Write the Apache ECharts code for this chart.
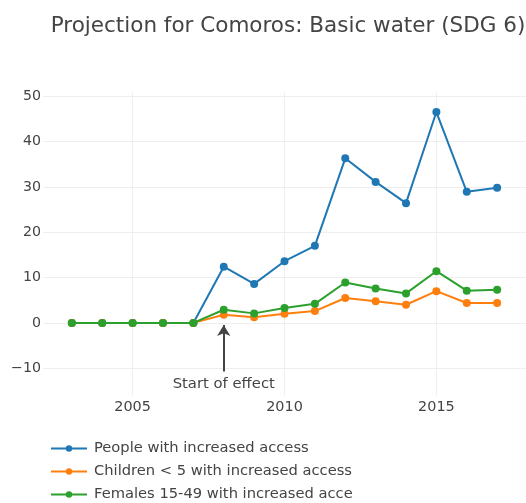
<!DOCTYPE html>
<html>
<head>
<meta charset="utf-8">
<script src="https://cdn.jsdelivr.net/npm/echarts@6/dist/echarts.min.js"></script>
<style>html,body{margin:0;padding:0;background:#fff;}#c{width:526px;height:503px;}</style>
</head>
<body>
<div id="c"></div>
<script>
const years = [2003,2004,2005,2006,2007,2008,2009,2010,2011,2012,2013,2014,2015,2016,2017];
const people = [0,0,0,0,0,12.4,8.6,13.6,17.0,36.3,31.1,26.4,46.5,28.9,29.8];
const children = [0,0,0,0,0,1.8,1.25,2.0,2.6,5.5,4.8,4.0,7.0,4.4,4.4];
const females = [0,0,0,0,0,2.9,2.1,3.3,4.2,8.9,7.6,6.5,11.4,7.1,7.3];
const seriesNames = ['People with increased access','Children < 5 with increased access','Females 15-49 with increased access'];
const colors = ['#1f77b4','#ff7f0e','#2ca02c'];
const effectYear = 2008;
const effectLabel = 'Start of effect';
const titleText = 'Projection for Comoros: Basic water (SDG 6)';

const font = 'DejaVu Sans';
const chart = echarts.init(document.getElementById('c'));
const mk = (arr) => years.map((y,i)=>[y,arr[i]]);
const series = [people, children, females].map((arr,i)=>({
  name: seriesNames[i], type:'line', data: mk(arr),
  symbol:'circle', symbolSize:8,
  lineStyle:{width:2, color:colors[i]}, itemStyle:{color:colors[i]},
  z: 3+i
}));
series.unshift({
  name:'_ref', type:'line', data:[], silent:true,
  markLine:{
    silent:true, animation:false,
    data:[
      [{coord:[2002,0], symbol:'none', lineStyle:{color:'#999',width:2,type:'solid'}, label:{show:false}},
       {coord:[2018,0], symbol:'none'}],
      [{coord:[effectYear,-10.7], symbol:'none', lineStyle:{color:'#444',width:2,type:'solid'},
        label:{show:true, position:'start', formatter:effectLabel, color:'#444', fontFamily:font, fontSize:14.8, distance:5}},
       {coord:[effectYear,-0.45], symbol:'arrow', symbolSize:[10,11]}]
    ]
  },
  z: 2
});
const legends = seriesNames.map((n,i)=>({
  orient:'vertical', left:50, top:441 + i*23, padding:0, itemWidth:36, itemHeight:8,
  data:[n], selectedMode:false,
  textStyle:{color:'#444', fontSize:14.7, fontFamily:font, width:263, overflow:'truncate', ellipsis:'', padding:[0,0,0,2]}
}));
chart.setOption({
  animation:false,
  textStyle:{fontFamily:font},
  title:{text:titleText, left:283, textAlign:'center', top:10,
    textStyle:{fontFamily:font, fontSize:21.5, fontWeight:'normal', color:'#444'}},
  grid:{left:43, right:-1.4, top:93, bottom:108, containLabel:false},
  xAxis:{type:'value', min:2002.05, max:2017.95, minInterval:5, maxInterval:5,
    axisLine:{show:false}, axisTick:{show:false},
    axisLabel:{color:'#444', fontSize:14.4, fontFamily:font, margin:5, showMinLabel:false, showMaxLabel:false,
      formatter:(v)=>String(v)},
    splitLine:{show:true, showMinLine:false, showMaxLine:false, lineStyle:{color:'#eee', width:1}}},
  yAxis:{type:'value', min:-15.9, max:50.7, minInterval:10, maxInterval:10,
    axisLine:{show:false}, axisTick:{show:false},
    axisLabel:{color:'#444', fontSize:14.2, fontFamily:font, margin:2, showMinLabel:false, showMaxLabel:false,
      formatter:(v)=> v<0 ? '\u2212'+Math.abs(v) : String(v)},
    splitLine:{show:true, showMinLine:false, showMaxLine:false, lineStyle:{color:'#eee', width:1}}},
  legend: legends,
  series: series
});
</script>
</body>
</html>
